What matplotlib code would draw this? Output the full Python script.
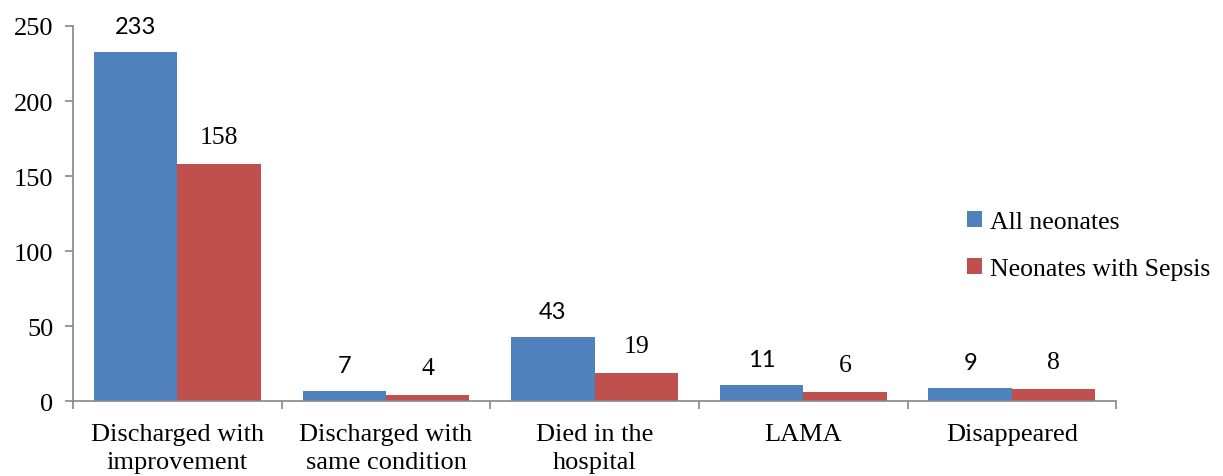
import numpy as np
import matplotlib.pyplot as plt

# Dados
categorias = ["Discharged with\nimprovement", "Discharged with\nsame condition",
              "Died in the\nhospital", "LAMA", "Disappeared"]
todos = [233, 7, 43, 11, 9]
sepse = [158, 4, 19, 6, 8]
nomes_series = ["All neonates", "Neonates with Sepsis"]

azul = "#4F81BD"
vermelho = "#C0504D"
cinza = "#868686"

plt.rcParams['font.family'] = ['Liberation Serif', 'DejaVu Serif']

fig = plt.figure(figsize=(12.23, 4.77), dpi=100)
ax = fig.add_axes([0.0597, 0.157, 0.853, 0.7864])

x = np.arange(len(categorias))
larg = 0.4
b1 = ax.bar(x - larg / 2, todos, larg, color=azul, label=nomes_series[0])
b2 = ax.bar(x + larg / 2, sepse, larg, color=vermelho, label=nomes_series[1])

# Rótulos das barras
for r, v in zip(b1, todos):
    ax.annotate(str(v), (r.get_x() + r.get_width() / 2, v), xytext=(0, 18),
                textcoords="offset points", ha="center", va="center",
                fontsize=17, family=["Lato", "DejaVu Sans"])
for r, v in zip(b2, sepse):
    ax.annotate(str(v), (r.get_x() + r.get_width() / 2, v), xytext=(0, 19.5),
                textcoords="offset points", ha="center", va="center",
                fontsize=18.5)

ax.set_xlim(-0.5, len(categorias) - 0.5)
ax.set_ylim(0, 250)
ax.set_yticks(range(0, 251, 50))
ax.tick_params(axis="y", labelsize=19, color=cinza, length=6, width=1.2, pad=8)

# Rótulos das categorias entre os ticks das bordas
ax.set_xticks(np.arange(-0.5, len(categorias)), minor=False)
ax.set_xticklabels([])
ax.set_xticks(x, minor=True)
ax.set_xticklabels(categorias, minor=True, fontsize=19, linespacing=1.35)
ax.tick_params(axis="x", which="major", color=cinza, length=6, width=1.2)
ax.tick_params(axis="x", which="minor", length=0, pad=16)

for lado in ["top", "right"]:
    ax.spines[lado].set_visible(False)
for lado in ["left", "bottom"]:
    ax.spines[lado].set_color(cinza)
    ax.spines[lado].set_linewidth(1.2)

ax.legend(loc="center left", bbox_to_anchor=(0.857, 0.415), frameon=False,
          fontsize=18.5, handlelength=0.6, handleheight=0.6, handletextpad=0.3,
          labelspacing=0.95, borderaxespad=0, borderpad=0)

fig.savefig("out.png", dpi=100)
